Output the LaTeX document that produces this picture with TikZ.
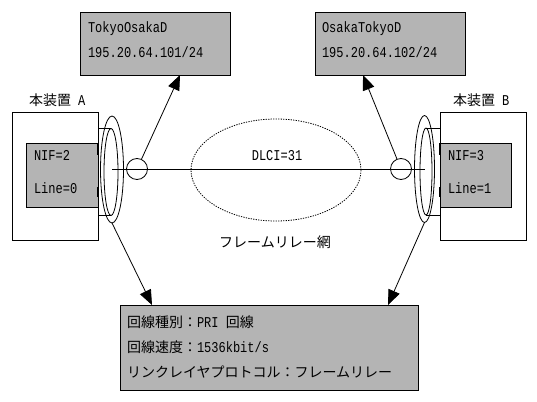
\documentclass[tikz,border=0pt]{standalone}
\usepackage{fontspec}
\setmainfont{Liberation Mono}[FakeStretch=0.8]
\newfontfamily\jpfam{Noto Sans CJK JP}
\newcommand\jp{\jpfam\fontsize{14}{16}\selectfont}
\usetikzlibrary{arrows.meta,shapes.geometric}
\definecolor{boxgray}{RGB}{180,180,180}
\begin{document}
\begin{tikzpicture}[x=1pt,y=-1pt,
  font=\fontsize{15}{17}\selectfont,
  every node/.style={inner sep=0pt,outer sep=0pt},
  gbox/.style={draw,fill=boxgray,line width=0.9pt,anchor=north west},
  wbox/.style={draw,fill=white,line width=0.9pt,anchor=north west},
  lbl/.style={anchor=base west},
  ring/.style={draw,ellipse,line width=0.8pt},
  pt/.style={draw,circle,line width=0.8pt,minimum size=21pt},
  conn/.style={line width=0.8pt},
  arr/.style={line width=0.8pt,-{Triangle[length=15pt,width=12pt]}},
  edgemark/.style={line width=2.2pt}]
\fill[white] (0,0) rectangle (537,401);
\useasboundingbox (0,0) rectangle (537,401);

% top address boxes
\node[gbox,minimum width=150pt,minimum height=63pt] (ipA) at (80,12) {};
\node[lbl] (ipAt1) at (88,33) {TokyoOsakaD};
\node[lbl] (ipAt2) at (88,58) {195.20.64.101/24};
\node[gbox,minimum width=150pt,minimum height=63pt] (ipB) at (315,12) {};
\node[lbl] (ipBt1) at (322,33) {OsakaTokyoD};
\node[lbl] (ipBt2) at (322,58) {195.20.64.102/24};

% device A
\node[lbl] (devAl) at (29,105) {{\jp 本装置} A};
\node[wbox,minimum width=86pt,minimum height=128pt] (devA) at (12,112) {};
\node[gbox,minimum width=72pt,minimum height=64pt] (nifA) at (26,143) {};
\node[lbl] (nifAt1) at (34,160) {NIF=2};
\node[lbl] (nifAt2) at (34,193) {Line=0};

% device B
\node[lbl] (devBl) at (453,105) {{\jp 本装置} B};
\node[wbox,minimum width=86pt,minimum height=128pt] (devB) at (440,112) {};
\node[gbox,minimum width=71pt,minimum height=64pt] (nifB) at (440,143) {};
\node[lbl] (nifBt1) at (448,160) {NIF=3};
\node[lbl] (nifBt2) at (448,193) {Line=1};

% thick marks on device edges
\draw[edgemark] (98,143) -- (98,155);
\draw[edgemark] (98,187) -- (98,197);
\draw[edgemark] (440,143) -- (440,155);
\draw[edgemark] (440,187) -- (440,197);

% rings A
\node[ring,minimum width=23pt,minimum height=107pt] (ringA) at (112,169.5) {};
\node[ring,minimum width=14pt,minimum height=87pt] (ringAin) at (111,172) {};
\draw[conn] (ringAin.north) -- (ringAin.north -| devA.east);
\draw[conn] (ringAin.south) -- (ringAin.south -| devA.east);

% rings B
\node[ring,minimum width=20pt,minimum height=107pt] (ringB) at (424.5,169) {};
\node[ring,minimum width=12pt,minimum height=87pt] (ringBin) at (426,171.5) {};
\draw[conn] (ringBin.north) -- (ringBin.north -| devB.west);
\draw[conn] (ringBin.south) -- (ringBin.south -| devB.west);

% frame relay cloud
\node[ellipse,draw,line width=0.8pt,dash pattern=on 1.3pt off 1.2pt,
      minimum width=170pt,minimum height=102pt] (fr) at (276,170) {};
\node[anchor=base] (dlci) at (277,160) {DLCI=31};
\node[anchor=base] (frl) at (275,247) {\jp フレームリレー網};

% link line
\coordinate (lA) at (112,169);
\coordinate (lB) at (425,169);
\draw[conn] (lA) -- (lB);
\node[pt] (cA) at (137,169) {};
\node[pt] (cB) at (401,169) {};

% bottom box
\node[gbox,minimum width=298pt,minimum height=85pt] (line) at (120,305) {};
\node[lbl] (lt1) at (127,327) {{\jp 回線種別：}PRI {\jp 回線}};
\node[lbl] (lt2) at (127,352) {{\jp 回線速度：}1536kbit/s};
\node[lbl] (lt3) at (127,377) {\jp リンクレイヤプロトコル：フレームリレー};

% arrows
\coordinate (tA) at (180,75);
\coordinate (tB) at (363,75);
\coordinate (tC) at (152,305);
\coordinate (tD) at (388,305);
\draw[arr] (cA) -- (tA);
\draw[arr] (cB) -- (tB);
\draw[arr] (ringA.south) -- (tC);
\draw[arr] (ringB.south) -- (tD);
\end{tikzpicture}
\end{document}
